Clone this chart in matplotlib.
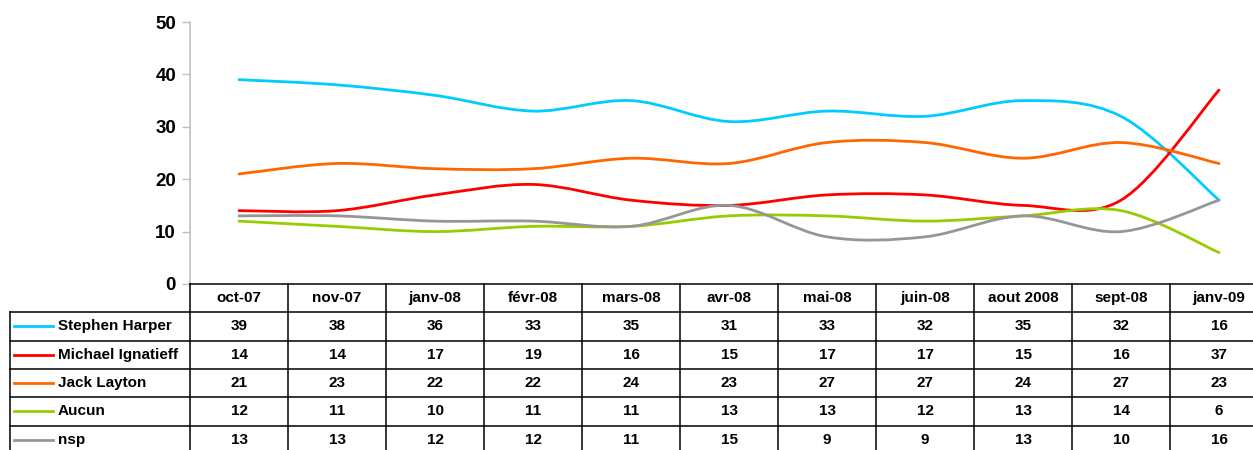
import matplotlib.pyplot as plt
import numpy as np
from matplotlib.path import Path
from matplotlib.patches import PathPatch

# Poll results per month
months = ["oct-07", "nov-07", "janv-08", "févr-08", "mars-08", "avr-08",
          "mai-08", "juin-08", "aout 2008", "sept-08", "janv-09"]
names = ["Stephen Harper", "Michael Ignatieff", "Jack Layton", "Aucun", "nsp"]
harper = [39, 38, 36, 33, 35, 31, 33, 32, 35, 32, 16]
ignatieff = [14, 14, 17, 19, 16, 15, 17, 17, 15, 16, 37]
layton = [21, 23, 22, 22, 24, 23, 27, 27, 24, 27, 23]
aucun = [12, 11, 10, 11, 11, 13, 13, 12, 13, 14, 6]
nsp = [13, 13, 12, 12, 11, 15, 9, 9, 13, 10, 16]
series = [harper, ignatieff, layton, aucun, nsp]
colors = ["#00CCFF", "#FF0000", "#FF6600", "#99CC00", "#969696"]

plt.rcParams["font.family"] = ["Liberation Sans", "DejaVu Sans"]

W, H = 1253, 450
fig = plt.figure(figsize=(W / 100, H / 100), dpi=100)

# pixel geometry
x0, col_w = 190, 98
y_top, y_zero = 22, 284
row_h = 28.3
n = len(months)
fs = 11


def smooth_path(xs, ys):
    """Cubic Bezier smoothing in the style of spreadsheet 'smoothed lines'."""
    pts = np.column_stack([xs, ys]).astype(float)
    ext = np.vstack([pts[0], pts, pts[-1]])
    verts = [tuple(pts[0])]
    codes = [Path.MOVETO]
    for i in range(len(pts) - 1):
        p0, p1, p2, p3 = ext[i], ext[i + 1], ext[i + 2], ext[i + 3]
        c1 = p1 + (p2 - p0) / 6.0
        c2 = p2 - (p3 - p1) / 6.0
        verts += [tuple(c1), tuple(c2), tuple(p2)]
        codes += [Path.CURVE4] * 3
    return Path(verts, codes)


ax = fig.add_axes([x0 / W, (H - y_zero) / H, n * col_w / W, (y_zero - y_top) / H])
ax.set_xlim(-0.5, n - 0.5)
ax.set_ylim(0, 50)
xs = np.arange(n)
for vals, c in zip(series, colors):
    ax.add_patch(PathPatch(smooth_path(xs, vals), facecolor="none",
                           edgecolor=c, lw=2.0, capstyle="round",
                           joinstyle="round", clip_on=False))
ax.set_xticks([])
ax.set_yticks(range(0, 51, 10))
ax.tick_params(axis="y", direction="out", length=6, width=1, color="#C0C0C0",
               labelsize=13.5, pad=4)
for lbl in ax.get_yticklabels():
    lbl.set_fontweight("bold")
for s in ["top", "right", "bottom"]:
    ax.spines[s].set_visible(False)
ax.spines["left"].set_color("#C0C0C0")
ax.spines["left"].set_linewidth(1.2)
ax.patch.set_alpha(0)

# data table underneath, drawn in pixel coordinates
tab = fig.add_axes([0, 0, 1, 1])
tab.set_xlim(0, W)
tab.set_ylim(H, 0)
tab.axis("off")
tab.patch.set_alpha(0)

x_end = x0 + n * col_w
lc = dict(color="black", lw=1.1)
y_rows = [y_zero + k * row_h for k in range(len(names) + 2)]
# horizontal lines
tab.plot([x0, x_end], [y_zero, y_zero], **lc)
for y in y_rows[1:]:
    tab.plot([10, x_end], [y, y], **lc)
# vertical lines
for k in range(n + 1):
    tab.plot([x0 + k * col_w] * 2, [y_zero, y_rows[-1]], **lc)
tab.plot([10, 10], [y_rows[1], y_rows[-1]], **lc)

for j, m in enumerate(months):
    tab.text(x0 + (j + 0.5) * col_w, y_zero + row_h / 2, m, ha="center",
             va="center", fontsize=fs, fontweight="bold")

for i, (name, vals, c) in enumerate(zip(names, series, colors)):
    yc = y_rows[i + 1] + row_h / 2
    tab.plot([14, 53], [yc, yc], color=c, lw=2.0)
    tab.text(58, yc, name, ha="left", va="center", fontsize=fs,
             fontweight="bold")
    for j, v in enumerate(vals):
        tab.text(x0 + (j + 0.5) * col_w, yc, str(v), ha="center",
                 va="center", fontsize=fs, fontweight="bold")

fig.savefig("out.png", dpi=100)
